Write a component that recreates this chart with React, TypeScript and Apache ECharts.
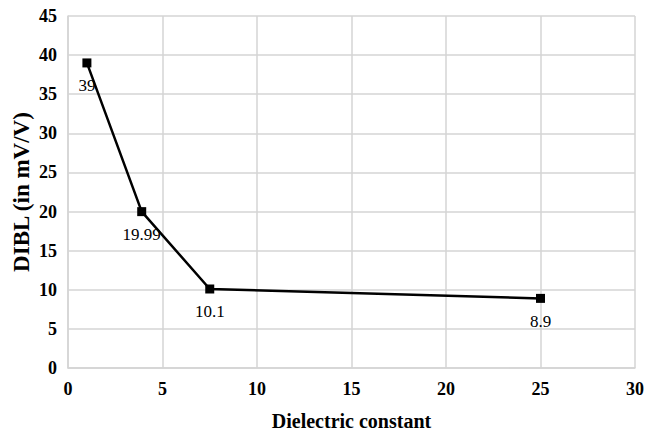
import React, { useEffect, useRef } from "react";
import * as echarts from "echarts";

const xValues = [1, 3.9, 7.5, 25];
const yValues = [39, 19.99, 10.1, 8.9];
const pointLabels = ["39", "19.99", "10.1", "8.9"];
const xAxisName = "Dielectric constant";
const yAxisName = "DIBL (in mV/V)";

export default function App() {
  const ref = useRef<HTMLDivElement>(null);
  useEffect(() => {
    if (!ref.current) return;
    const chart = echarts.init(ref.current, null, { renderer: "svg" });
    const font = "'Liberation Serif', 'Times New Roman', serif";
    chart.setOption({
      animation: false,
      backgroundColor: "#ffffff",
      grid: { left: 68, right: 24, top: 16, bottom: 70, containLabel: false, outerBoundsMode: "none" },
      xAxis: {
        type: "value",
        min: 0,
        max: 30,
        interval: 5,
        name: xAxisName,
        nameLocation: "middle",
        nameGap: 43,
        nameMoveOverlap: false,
        nameTextStyle: { fontFamily: font, fontSize: 20, color: "#000", fontWeight: "bold" },
        axisLine: { show: true, lineStyle: { color: "#d4d4d4", width: 1.5 } },
        axisTick: { show: false },
        axisLabel: { fontFamily: font, fontSize: 18, color: "#000", fontWeight: "bold", margin: 12 },
        splitLine: { show: true, lineStyle: { color: "#d4d4d4", width: 1.5 } },
      },
      yAxis: {
        type: "value",
        min: 0,
        max: 45,
        interval: 5,
        name: yAxisName,
        nameLocation: "middle",
        nameGap: 35,
        nameMoveOverlap: false,
        nameRotate: 90,
        nameTextStyle: { fontFamily: font, fontSize: 23, color: "#000", fontWeight: "bold" },
        axisLine: { show: true, lineStyle: { color: "#d4d4d4", width: 1.5 } },
        axisTick: { show: false },
        axisLabel: { fontFamily: font, fontSize: 18, color: "#000", fontWeight: "bold", margin: 11 },
        splitLine: { show: true, lineStyle: { color: "#d4d4d4", width: 1.5 } },
      },
      series: [
        {
          type: "line",
          data: xValues.map((x, i) => [x, yValues[i]]),
          symbol: "rect",
          symbolSize: 9,
          itemStyle: { color: "#000" },
          lineStyle: { color: "#000", width: 2.5 },
          label: {
            show: true,
            position: "bottom",
            distance: 10,
            fontFamily: font,
            fontSize: 17,
            color: "#000",
            formatter: (p: any) => pointLabels[p.dataIndex],
          },
        },
      ],
    });
    return () => chart.dispose();
  }, []);
  return <div ref={ref} style={{ width: 659, height: 438, position: "absolute", left: 0, top: 0 }} />;
}
